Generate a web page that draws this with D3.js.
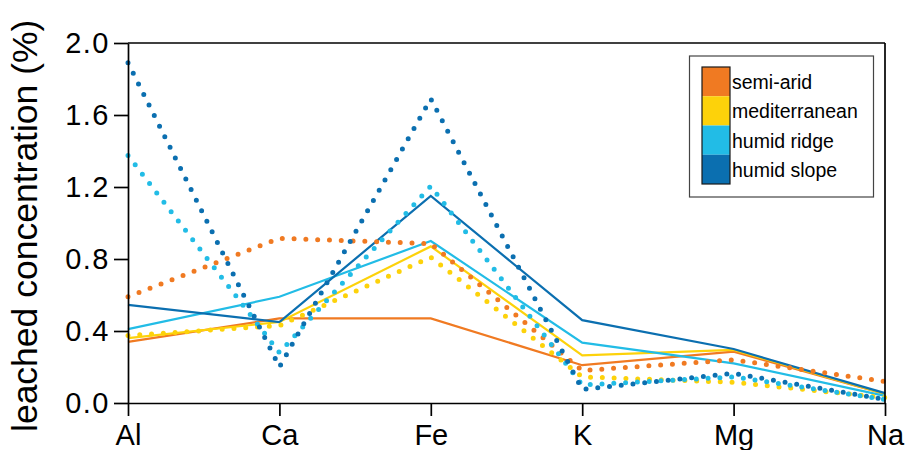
<!DOCTYPE html>
<html>
<head>
<meta charset="utf-8">
<script src="https://cdn.jsdelivr.net/npm/d3@7"></script>
<style>
  html, body { margin: 0; padding: 0; background: #fff; }
  svg { display: block; }
  text { font-family: "Liberation Sans", Arial, Helvetica, sans-serif; fill: #000; }
</style>
</head>
<body>
<svg id="chart" width="906" height="450"></svg>
<script>
// ---- data ----
const categories = ["Al", "Ca", "Fe", "K", "Mg", "Na"];
const seriesNames = ["semi-arid", "mediterranean", "humid ridge", "humid slope"];
const seriesColors = ["#F07A22", "#FDD20A", "#22BCE6", "#0B6FB0"];
// solid lines
const solidSemiArid      = [0.34, 0.47, 0.47, 0.21, 0.285, 0.05];
const solidMediterranean = [0.36, 0.45, 0.87, 0.265, 0.295, 0.05];
const solidHumidRidge    = [0.41, 0.59, 0.90, 0.335, 0.22, 0.04];
const solidHumidSlope    = [0.545, 0.45, 1.15, 0.46, 0.30, 0.055];
// dotted lines
const dotSemiArid        = [0.59, 0.915, 0.885, 0.18, 0.24, 0.12];
const dotMediterranean   = [0.375, 0.43, 0.81, 0.145, 0.115, 0.03];
const dotHumidRidge      = [1.375, 0.28, 1.205, 0.10, 0.145, 0.02];
const dotHumidSlope      = [1.89, 0.20, 1.69, 0.075, 0.165, 0.02];
const yTicks = [0.0, 0.4, 0.8, 1.2, 1.6, 2.0];
const yTitle = "leached concentration (%)";

const solidSeries = [solidSemiArid, solidMediterranean, solidHumidRidge, solidHumidSlope];
const dotSeries = [dotSemiArid, dotMediterranean, dotHumidRidge, dotHumidSlope];

// ---- layout ----
const svg = d3.select("#chart");
const L = 128, R = 885, T = 43, B = 403;
const x = d3.scalePoint().domain(categories).range([L, R]);
const y = d3.scaleLinear().domain([0, 2]).range([B, T]);

const line = d3.line()
  .x((d, i) => x(categories[i]))
  .y(d => y(d));

// solid lines
solidSeries.forEach((s, k) => {
  svg.append("path")
    .attr("d", line(s))
    .attr("fill", "none")
    .attr("stroke", seriesColors[k])
    .attr("stroke-width", 2.2)
    .attr("stroke-linejoin", "miter");
});
// dotted lines
dotSeries.forEach((s, k) => {
  svg.append("path")
    .attr("d", line(s))
    .attr("fill", "none")
    .attr("stroke", seriesColors[k])
    .attr("stroke-width", 5)
    .attr("stroke-linecap", "round")
    .attr("stroke-dasharray", "0,11.8");
});

// axes
const yAxis = svg.append("g")
  .attr("transform", `translate(${L},0)`)
  .call(d3.axisLeft(y).tickValues(yTicks).tickFormat(d3.format(".1f"))
        .tickSize(14).tickSizeOuter(0).tickPadding(4));
const xAxis = svg.append("g")
  .attr("transform", `translate(0,${B})`)
  .call(d3.axisBottom(x).tickSize(13).tickSizeOuter(0).tickPadding(8));

[yAxis, xAxis].forEach(g => {
  g.selectAll("path, line").attr("stroke", "#000").attr("stroke-width", 1.7);
  g.selectAll("text").attr("font-size", 29).attr("font-family", "'Liberation Sans', Arial, sans-serif").attr("fill", "#000");
});
yAxis.selectAll("text").attr("letter-spacing", 1.5);

// frame top & right
svg.append("line").attr("x1", L).attr("x2", R).attr("y1", T).attr("y2", T)
  .attr("stroke", "#000").attr("stroke-width", 1.7);
svg.append("line").attr("x1", R).attr("x2", R).attr("y1", T).attr("y2", B)
  .attr("stroke", "#000").attr("stroke-width", 1.7);

// y title
svg.append("text")
  .attr("transform", "translate(37,432) rotate(-90)")
  .attr("text-anchor", "start")
  .attr("font-size", 35.5)
  .text(yTitle);

// legend
const lg = svg.append("g");
lg.append("rect").attr("x", 689.5).attr("y", 56).attr("width", 184).attr("height", 141)
  .attr("fill", "#fff").attr("stroke", "#444").attr("stroke-width", 1.2);
const sw = 29.25, sx = 702, sy = 67;
seriesNames.forEach((n, i) => {
  lg.append("rect").attr("x", sx).attr("y", sy + i * sw).attr("width", 28).attr("height", sw)
    .attr("fill", seriesColors[i]);
  lg.append("text").attr("x", 732).attr("y", sy + i * sw + sw / 2 + 7.5)
    .attr("font-size", 19.5).text(n);
});
lg.append("rect").attr("x", sx).attr("y", sy).attr("width", 28).attr("height", sw * 4)
  .attr("fill", "none").attr("stroke", "#1a1a1a").attr("stroke-width", 1.2);
</script>
</body>
</html>
